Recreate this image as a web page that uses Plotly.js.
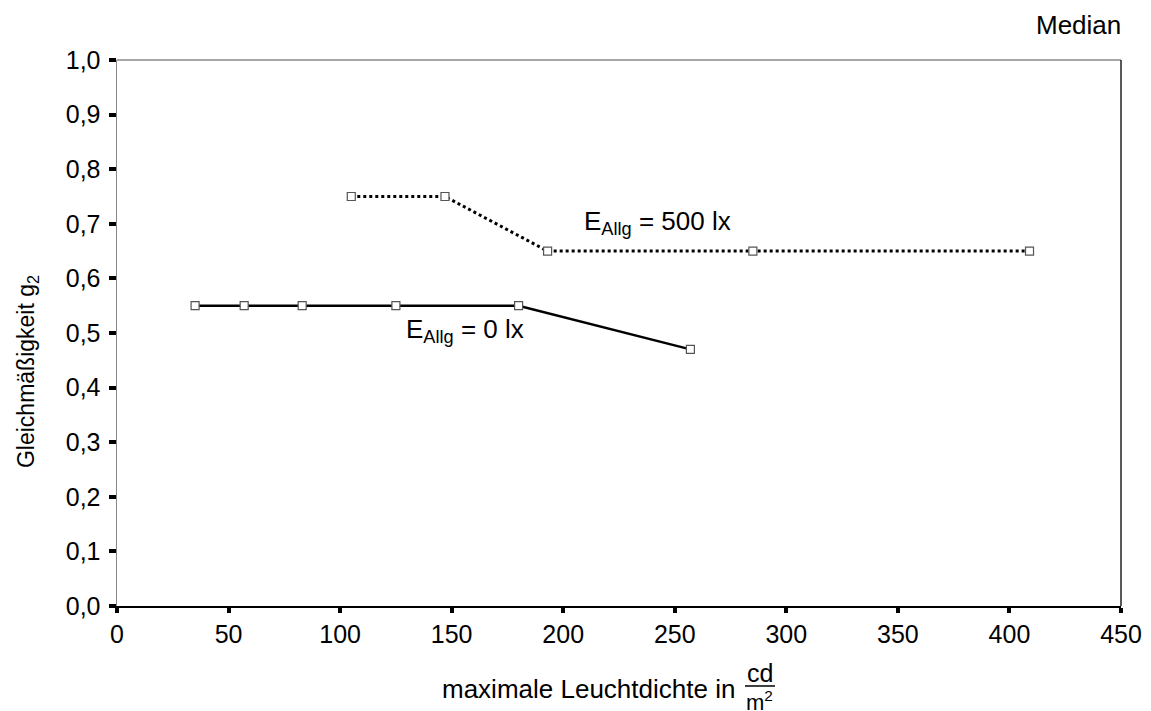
<!DOCTYPE html>
<html>
<head>
<meta charset="utf-8">
<script src="https://cdn.plot.ly/plotly-3.0.1.min.js"></script>
<style>html,body{margin:0;padding:0;background:#fff;}#chart{width:1151px;height:711px;}</style>
</head>
<body>
<div id="chart"></div>
<script>
// Data
const seriesNames = ["E<sub>Allg</sub> = 0 lx", "E<sub>Allg</sub> = 500 lx"];
const x0lx = [35, 57, 83, 125, 180, 257];
const y0lx = [0.55, 0.55, 0.55, 0.55, 0.55, 0.47];
const x500lx = [105, 147, 193, 285, 409];
const y500lx = [0.75, 0.75, 0.65, 0.65, 0.65];
const xTicks = [0, 50, 100, 150, 200, 250, 300, 350, 400, 450];
const yTicks = [0, 0.1, 0.2, 0.3, 0.4, 0.5, 0.6, 0.7, 0.8, 0.9, 1.0];

const FONT = "Liberation Sans, Arial, sans-serif";
const markerStyle = {symbol: "square", size: 8, color: "#ffffff", line: {color: "#555555", width: 1.2}};

const traces = [
  {x: x0lx, y: y0lx, mode: "lines+markers", name: seriesNames[0],
   line: {color: "#000000", width: 2.5}, marker: markerStyle},
  {x: x500lx, y: y500lx, mode: "lines+markers", name: seriesNames[1],
   line: {color: "#000000", width: 3, dash: "dot"}, marker: markerStyle}
];

const layout = {
  width: 1151, height: 711,
  margin: {l: 117, r: 30, t: 60, b: 105},
  paper_bgcolor: "#ffffff", plot_bgcolor: "#ffffff",
  showlegend: false,
  separators: ",.",
  font: {family: FONT, size: 25, color: "#000000"},
  xaxis: {
    range: [0, 450], tickvals: xTicks, ticktext: xTicks.map(String),
    showgrid: false, zeroline: false,
    showline: true, linecolor: "#000000", linewidth: 1.5,
    ticks: "outside", ticklen: 5, tickwidth: 4, tickcolor: "#000000",
    tickfont: {family: FONT, size: 25, color: "#000000"},
    title: {text: ""}
  },
  yaxis: {
    range: [0, 1.0], tickvals: yTicks, tickformat: ".1f",
    showgrid: false, zeroline: false,
    showline: true, linecolor: "#888888", linewidth: 1.5,
    ticks: "outside", ticklen: 7, tickwidth: 4, tickcolor: "#000000",
    ticklabelstandoff: 3,
    tickfont: {family: FONT, size: 25, color: "#000000"},
    title: {text: ""}
  },
  shapes: [
    {type: "line", xref: "paper", yref: "paper", x0: 0, x1: 1, y0: 1, y1: 1, line: {color: "#888888", width: 1.5}},
    {type: "line", xref: "paper", yref: "paper", x0: 1, x1: 1, y0: 0, y1: 1, line: {color: "#222222", width: 1.5}},
    {type: "line", xref: "paper", yref: "paper", x0: 0.6255, x1: 0.6554, y0: -0.1465, y1: -0.1465, line: {color: "#000000", width: 1.5}}
  ],
  annotations: [
    {text: "Gleichmäßigkeit g<sub>2</sub>", xref: "paper", yref: "paper", x: -0.0886, y: 0.4286, textangle: -90, xanchor: "center", yanchor: "middle", showarrow: false, font: {family: FONT, size: 23}},
    {text: seriesNames[1], xref: "x", yref: "y", x: 208.5, y: 0.703, xanchor: "left", yanchor: "middle", showarrow: false, font: {family: FONT, size: 26}},
    {text: seriesNames[0], xref: "x", yref: "y", x: 128.5, y: 0.505, xanchor: "left", yanchor: "middle", showarrow: false, font: {family: FONT, size: 26}},
    {text: "Median", xref: "paper", yref: "paper", x: 1.002, y: 1.064, xanchor: "right", yanchor: "middle", showarrow: false, font: {family: FONT, size: 26}},
    {text: "maximale Leuchtdichte in", xref: "paper", yref: "paper", x: 0.6175, y: -0.152, xanchor: "right", yanchor: "middle", showarrow: false, font: {family: FONT, size: 26}},
    {text: "cd", xref: "paper", yref: "paper", x: 0.6404, y: -0.1225, xanchor: "center", yanchor: "middle", showarrow: false, font: {family: FONT, size: 25}},
    {text: "m<sup>2</sup>", xref: "paper", yref: "paper", x: 0.6404, y: -0.1735, xanchor: "center", yanchor: "middle", showarrow: false, font: {family: FONT, size: 22}}
  ]
};

Plotly.newPlot("chart", traces, layout, {displayModeBar: false, staticPlot: true});
</script>
</body>
</html>
